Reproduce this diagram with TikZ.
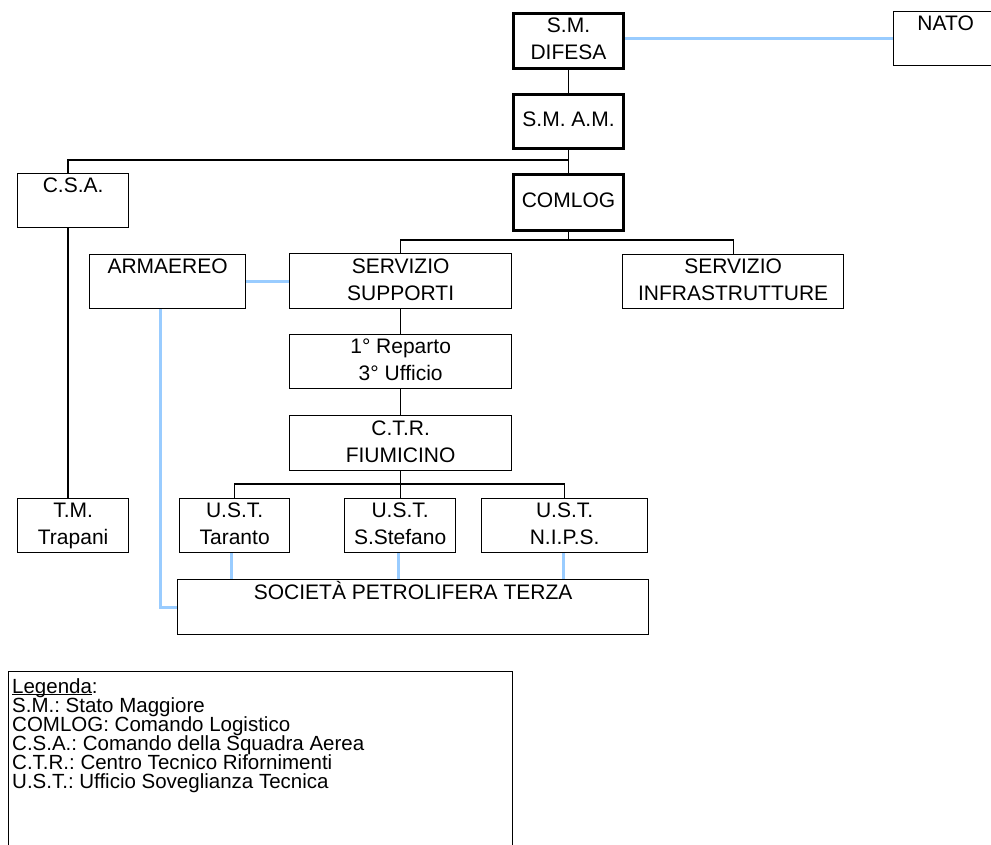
\documentclass[tikz,border=0pt]{standalone}
\usepackage{fontspec}
\setmainfont{Liberation Sans}
\frenchspacing
\definecolor{linkblue}{RGB}{153,204,255}
% line struts: boxes (19pt above, 8pt below) and legend (14pt above, 5pt below)
\newcommand\bs{\rule[-8pt]{0pt}{27pt}}
\newcommand\ls{\rule[-5pt]{0pt}{19pt}}
% word with a rule through the descenders
\newcommand\ulword[1]{\setbox0\hbox{#1}\rlap{\rule[-2.2pt]{\wd0}{1.3pt}}\box0}
\tikzset{
  orgbox/.style={draw, line width=1.3pt, fill=white, inner sep=0pt, align=center,
    anchor=north west, font=\fontsize{21}{27}\selectfont},
  headbox/.style={orgbox, line width=3pt},
  tie/.style={line width=1.3pt},
  link/.style={line width=3pt, draw=linkblue},
}
\begin{document}
\begin{tikzpicture}[x=1pt,y=-1pt]
\useasboundingbox (0,0) rectangle (991,845);
\clip (0,0) rectangle (991,845);

% command chain
\node[headbox, minimum width=110pt, minimum height=55pt] (difesa) at (512,12) {\bs S.M.\\\bs DIFESA};
\node[orgbox, minimum width=104pt, minimum height=54pt] (nato) at (893,11) {\bs NATO\\\bs};
\node[headbox, minimum width=110pt, minimum height=54pt] (smam) at (512,93) {\bs S.M. A.M.};
\node[headbox, minimum width=110pt, minimum height=56pt] (comlog) at (512,173) {\bs COMLOG};
\node[orgbox, minimum width=111pt, minimum height=54pt] (csa) at (17,173) {\bs C.S.A.\\\bs};
\node[orgbox, minimum width=111pt, minimum height=54pt] (trapani) at (17,498) {\bs T.M.\\\bs Trapani};

% services
\node[orgbox, minimum width=156pt, minimum height=54pt] (armaereo) at (89,254) {\bs ARMAEREO\\\bs};
\node[orgbox, minimum width=222pt, minimum height=55pt] (supporti) at (289,253) {\bs SERVIZIO\\\bs SUPPORTI};
\node[orgbox, minimum width=221pt, minimum height=54pt] (infra) at (622,254) {\bs SERVIZIO\\\bs INFRASTRUTTURE};
\node[orgbox, minimum width=222pt, minimum height=54pt] (reparto) at (289,334) {\bs 1° Reparto\\\bs 3° Ufficio};
\node[orgbox, minimum width=222pt, minimum height=55pt] (ctr) at (289,415) {\bs C.T.R.\\\bs FIUMICINO};

% surveillance offices
\node[orgbox, minimum width=110pt, minimum height=54pt] (taranto) at (179,498) {\bs U.S.T.\\\bs Taranto};
\node[orgbox, minimum width=111pt, minimum height=54pt] (stefano) at (344,498) {\bs U.S.T.\\\bs S.Stefano};
\node[orgbox, minimum width=166pt, minimum height=54pt] (nips) at (481,498) {\bs U.S.T.\\\bs N.I.P.S.};
\node[orgbox, minimum width=471pt, minimum height=55pt] (societa) at (177,579) {\bs SOCIETÀ PETROLIFERA TERZA\\\bs};

% hierarchy connectors
\coordinate (csaline) at (68,160);
\coordinate (cbus) at (0,240);
\coordinate (ubus) at (0,484);
\draw[tie] (difesa.south) -- (smam.north);
\draw[tie] (smam.south) -- (comlog.north);
\draw[tie] (smam.south |- csaline) -- (csaline) -- (csa.north -| csaline);
\draw[tie] (csa.south -| csaline) -- (trapani.north -| csaline);
\draw[tie] (comlog.south) -- (comlog.south |- cbus);
\draw[tie] (supporti.north) |- (infra.north |- cbus) -- (infra.north);
\draw[tie] (supporti.south) -- (reparto.north);
\draw[tie] (reparto.south) -- (ctr.north);
\draw[tie] (ctr.south) -- (ctr.south |- ubus);
\draw[tie] (taranto.north) |- (nips.north |- ubus) -- (nips.north);
\draw[tie] (stefano.north) -- (stefano.north |- ubus);

% functional links
\coordinate (armdrop) at (160,0);
\draw[link] (difesa.east |- nato.west) -- (nato.west);
\draw[link] (armaereo.east) -- (armaereo.east -| supporti.west);
\draw[link] (armaereo.south -| armdrop) |- (societa.west);
\draw[link] ([xshift=-3pt]taranto.south) -- ([xshift=-3pt]taranto.south |- societa.north);
\draw[link] ([xshift=-1.5pt]stefano.south) -- ([xshift=-1.5pt]stefano.south |- societa.north);
\draw[link] ([xshift=-1pt]nips.south) -- ([xshift=-1pt]nips.south |- societa.north);

% legend
\node[draw, line width=1.3pt, minimum width=504pt, minimum height=200pt, anchor=north west, inner sep=0pt] (legend) at (8,671) {};
\node[anchor=north west, inner sep=0pt, align=left,
  font={\fontsize{20.5}{19}\selectfont\lineskiplimit=-20pt}] (legendtext)
  at ([xshift=4pt,yshift=-7pt]legend.north west)
  {\ls\ulword{Legenda}:\\
   \ls S.M.: Stato Maggiore\\
   \ls COMLOG: Comando Logistico\\
   \ls C.S.A.: Comando della Squadra Aerea\\
   \ls C.T.R.: Centro Tecnico Rifornimenti\\
   \ls U.S.T.: Ufficio Soveglianza Tecnica};
\end{tikzpicture}
\end{document}
